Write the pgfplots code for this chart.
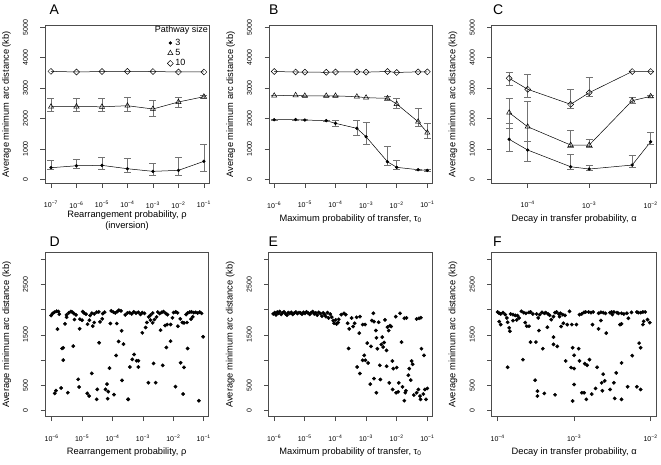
\documentclass[border=0pt]{standalone}
\usepackage{fontspec}
\setmainfont{Liberation Sans}
\usepackage{pgfplots}
\pgfplotsset{compat=1.18}
\usepackage{pgfplotstable}

\definecolor{errgray}{gray}{0.45}
\definecolor{boxgray}{gray}{0.3}
\newcommand{\tp}[1]{10\textsuperscript{−#1}}

% ---------- line panels: x = log10 value ----------
\pgfplotstableread{
x y ep em
-7 382 243 53
-6 447 211 85
-5 460 251 131
-4 349 329 119
-3 263 263 145
-2 296 428 178
-1 592 569 342
}\Athree
\pgfplotstableread{
x y ep em
-7 2388 276 151
-6 2395 270 150
-5 2385 280 150
-4 2421 265 184
-3 2313 296 253
-2 2543 164 175
-1 2718 55 43
}\Afive
\pgfplotstableread{
x y ep em
-7 3550 0 0
-6 3530 0 0
-5 3545 0 0
-4 3550 0 0
-3 3545 0 0
-2 3530 0 0
-1 3530 0 0
}\Aten
\pgfplotstableread{
x y ep em
-6 1960 15 15
-5.301 1965 15 15
-5 1950 15 15
-4.301 1930 20 20
-4 1842 109 89
-3.301 1677 251 220
-3 1401 474 250
-2.301 579 493 132
-2 395 217 56
-1.301 316 20 20
-1 296 20 20
}\Bthree
\pgfplotstableread{
x y ep em
-6 2750 0 0
-5.301 2765 0 0
-5 2745 0 0
-4.301 2745 0 0
-4 2745 0 0
-3.301 2717 0 0
-3 2684 0 0
-2.301 2664 76 78
-2 2477 187 142
-1.301 1895 427 165
-1 1533 309 184
}\Bfive
\pgfplotstableread{
x y ep em
-6 3545 0 0
-5.301 3530 0 0
-5 3525 0 0
-4.301 3520 0 0
-4 3530 0 0
-3.301 3535 0 0
-3 3525 0 0
-2.301 3545 0 0
-2 3515 0 0
-1.301 3535 0 0
-1 3535 0 0
}\Bten
\pgfplotstableread{
x y ep em
-4.301 1316 526 408
-4 964 273 385
-3.301 414 418 85
-3 339 131 56
-2.301 470 307 76
-2 1237 296 86
}\Cthree
\pgfplotstableread{
x y ep em
-4.301 2191 460 513
-4 1730 823 493
-3.301 1128 471 75
-3 1128 198 75
-2.301 2586 111 86
-2 2730 30 30
}\Cfive
\pgfplotstableread{
x y ep em
-4.301 3322 185 220
-4 2961 493 261
-3.301 2467 494 131
-3 2849 506 109
-2.301 3545 0 0
-2 3545 0 0
}\Cten

% ---------- scatter panels ----------
\pgfplotstableread{
x y
-6.02 1882
-5.97 1921
-5.91 1948
-5.84 1967
-5.78 1961
-5.75 1908
-5.51 1895
-5.44 1934
-5.37 1961
-5.32 1948
-5.27 1921
-5.20 1895
-4.98 1961
-4.93 1928
-4.87 1908
-4.74 1882
-4.68 1928
-4.60 1915
-4.52 1948
-4.45 1954
-4.32 1921
-4.26 1948
-4.04 1974
-3.97 1948
-3.91 1934
-3.84 1961
-3.79 1987
-3.72 1974
-3.58 1895
-3.51 1934
-3.44 1940
-3.37 1915
-3.30 1955
-3.23 1930
-3.15 1945
-3.08 1905
-3.02 1940
-2.95 1925
-2.75 1890
-2.68 1930
-2.51 1950
-2.45 1920
-2.38 1945
-2.32 1960
-2.25 1925
-2.19 1900
-1.99 1940
-1.92 1955
-1.86 1935
-1.58 1900
-1.53 1930
-1.46 1950
-1.40 1955
-1.33 1940
-1.26 1945
-1.20 1930
-1.13 1950
-1.07 1925
-5.81 1612
-5.56 1717
-5.51 1849
-5.25 1803
-5.07 1809
-5.08 1619
-5.00 1790
-4.82 1711
-4.76 1790
-4.65 1671
-4.60 1744
-4.41 1757
-4.34 1816
-4.07 1724
-3.86 1724
-3.70 1579
-3.02 1540
-2.91 1645
-2.87 1744
-2.81 1855
-2.75 1790
-2.68 1737
-2.62 1803
-2.55 1855
-2.42 1592
-2.27 1684
-2.20 1704
-2.09 1704
-2.03 1836
-1.85 1671
-1.77 1816
-1.70 1744
-1.65 1737
-1.55 1744
-1.42 1810
-1.36 1855
-5.66 1230
-5.62 1244
-5.29 1277
-5.62 1000
-4.44 1342
-3.80 1369
-3.64 1316
-3.88 1092
-4.10 842
-4.68 737
-5.13 619
-3.69 599
-1.02 1461
-2.09 1375
-2.23 1250
-1.53 1230
-3.29 1112
-3.35 1013
-3.21 987
-3.15 987
-3.43 862
-3.15 862
-2.65 934
-2.35 895
-1.76 947
-1.65 855
-5.90 342
-5.86 395
-5.69 447
-5.47 355
-5.10 467
-4.83 342
-4.77 290
-4.52 224
-4.50 421
-4.23 421
-4.18 526
-4.14 375
-4.16 237
-3.95 316
-3.48 224
-2.82 553
-2.58 553
-1.93 474
-1.68 329
-3.49 224
-1.16 197
}\Ddata

\pgfplotstableread{
x y
-6.03 1915
-5.98 1940
-5.94 1895
-5.90 1950
-5.86 1925
-5.82 1960
-5.77 1905
-5.73 1935
-5.68 1955
-5.63 1915
-5.58 1890
-5.54 1940
-5.49 1925
-5.44 1945
-5.39 1905
-5.34 1930
-5.29 1950
-5.24 1920
-5.19 1940
-5.14 1935
-5.09 1910
-5.04 1945
-4.99 1925
-4.94 1955
-4.89 1930
-4.84 1905
-4.79 1940
-4.74 1960
-4.69 1915
-4.64 1935
-4.59 1890
-4.54 1945
-4.49 1920
-4.44 1870
-4.40 1935
-4.35 1900
-4.31 1860
-4.26 1940
-4.22 1834
-4.17 1910
-4.12 1850
-4.07 1782
-4.04 1729
-3.99 1795
-3.96 1716
-3.91 1745
-3.89 1808
-3.81 1900
-3.72 1925
-3.66 1900
-3.60 1729
-3.55 1618
-3.47 1834
-3.42 1664
-3.37 1729
-3.31 1847
-3.22 1533
-3.20 1860
-3.11 1703
-3.03 1703
-2.96 1336
-2.84 1271
-2.81 1782
-2.76 1926
-2.74 1762
-2.68 1585
-2.66 1441
-2.63 1225
-2.59 1749
-2.55 897
-2.50 1310
-2.47 1454
-2.44 1258
-2.41 1349
-2.38 1795
-2.33 1192
-2.30 1651
-2.26 1585
-2.22 1683
-2.18 1664
-2.11 832
-2.03 1860
-1.89 1926
-1.84 1356
-1.75 1827
-1.68 1834
-3.29 865
-3.20 734
-3.11 996
-3.06 1094
-3.02 996
-2.93 943
-2.86 524
-2.74 635
-2.66 354
-2.53 616
-2.33 878
-2.24 550
-2.14 983
-2.00 852
-2.13 419
-2.02 354
-1.95 373
-1.93 550
-1.81 472
-1.72 354
-1.70 393
-1.75 197
-1.62 701
-1.59 832
-1.54 603
-1.51 983
-1.48 917
-1.44 308
-1.35 354
-1.29 419
-1.24 288
-1.22 223
-1.13 328
-1.08 419
-1.04 223
-1.00 439
-1.19 1225
-1.11 1094
-1.35 1814
-1.27 1827
-1.21 1840
-3.57 1230
}\Edata

\pgfplotstableread{
x y
-4.00 1952
-3.98 1926
-3.96 1913
-3.93 1939
-3.90 1900
-3.83 1913
-3.80 1900
-3.77 1886
-3.74 1880
-3.69 1965
-3.66 1939
-3.63 1926
-3.59 1945
-3.57 1952
-3.54 1913
-3.45 1900
-3.42 1945
-3.39 1926
-3.37 1939
-3.34 1913
-3.32 1886
-3.25 1939
-3.23 1952
-3.20 1913
-3.18 1926
-3.15 1900
-3.12 1886
-3.06 1965
-2.93 1900
-2.90 1913
-2.87 1945
-2.85 1952
-2.81 1952
-2.78 1939
-2.75 1952
-2.68 1926
-2.65 1945
-2.62 1939
-2.59 1926
-2.53 1939
-2.51 1952
-2.48 1952
-2.44 1939
-2.42 1926
-2.38 1926
-2.35 1913
-2.31 1926
-2.25 1945
-2.18 1952
-2.16 1939
-2.13 1939
-2.10 1952
-2.07 1952
-3.98 1762
-3.96 1703
-3.88 1834
-3.87 1749
-3.85 1638
-3.84 1572
-3.80 1782
-3.75 1795
-3.72 1834
-3.64 1742
-3.62 1670
-3.59 1670
-3.49 1913
-3.47 1834
-3.46 1585
-3.35 1651
-3.30 1801
-3.27 1860
-3.19 1860
-3.17 1664
-3.14 1729
-3.09 1703
-3.03 1703
-2.97 1703
-2.76 1703
-2.65 1782
-2.58 1533
-2.68 1618
-2.50 1900
-2.40 1703
-2.38 1716
-2.29 1827
-2.10 1703
-2.09 1768
-2.04 1801
-2.01 1742
-3.57 1356
-3.50 1356
-3.41 1225
-3.27 1454
-3.27 1310
-3.22 1271
-3.67 1009
-3.11 983
-3.02 1245
-3.00 1094
-2.94 1225
-2.93 983
-3.04 852
-3.00 832
-2.86 930
-2.83 897
-2.80 1009
-2.70 858
-2.38 943
-2.24 1087
-2.15 1336
-2.13 1245
-3.87 858
-3.51 603
-3.48 386
-3.48 288
-3.39 340
-3.25 314
-3.02 190
-3.00 517
-2.90 354
-2.87 354
-2.84 223
-2.77 328
-2.72 439
-2.64 550
-2.62 721
-2.60 590
-2.63 393
-2.53 419
-2.48 550
-2.47 242
-2.45 747
-2.38 223
-2.30 472
-2.18 472
-2.13 419
}\Fdata

\pgfplotsset{
  panel/.style={
    scale only axis,
    axis line style={boxgray, line width=0.6pt},
    tick style={boxgray, line width=0.6pt},
    tick align=outside,
    major tick length=4.5pt,
    tick pos=left,
    ticklabel style={font=\fontsize{7}{8}\selectfont, text=black, inner sep=0pt},
    xticklabel style={anchor=center, yshift=-17pt},
    yticklabel style={anchor=center, xshift=-15pt, rotate=90},
    label style={font=\fontsize{9.3}{11}\selectfont, inner sep=0pt},
    ylabel style={at={(axis description cs:-0.235,0.5)}, anchor=center},
    ylabel={Average minimum arc distance (kb)},
    clip=false,
  },
  toprow/.style={panel, width=164pt, height=158.3pt,
    ymin=-130, ymax=5075,
    ytick={0,1000,2000,3000,4000,5000},
    yticklabels={0,1000,2000,3000,4000,5000},
    xlabel style={at={(axis description cs:0.5,-0.226)}, anchor=center, align=center},
  },
  botrow/.style={panel, width=164pt, height=164pt,
    ymin=-120, ymax=3125,
    ytick={0,500,1000,1500,2000,2500,3000},
    yticklabels={0,500,,1500,,2500,},
    xlabel style={at={(axis description cs:0.5,-0.215)}, anchor=center},
  },
  s3/.style={black, line width=0.5pt, mark=*, mark size=1.4pt},
  s5/.style={black, line width=0.5pt, mark=triangle, mark size=3pt, mark options={line width=0.5pt}},
  s10/.style={black, line width=0.5pt, mark=square, mark size=2.1pt, mark options={rotate=45, line width=0.5pt}},
  eb/.style={error bars/.cd, y dir=both, y explicit,
    error bar style={errgray, line width=0.6pt},
    error mark options={errgray, mark size=3.5pt, line width=0.6pt, rotate=90}},
  sc/.style={only marks, mark=*, mark size=1.7pt, black},
}

\begin{document}
\begin{tikzpicture}
\useasboundingbox (0,0) rectangle (661pt,464pt);

% ---------------- A ----------------
\begin{axis}[toprow, at={(45pt,280.7pt)}, anchor=south west,
  xmin=-7.235, xmax=-0.8,
  xtick={-7,-6,-5,-4,-3,-2,-1},
  xticklabels={\tp{7},\tp{6},\tp{5},\tp{4},\tp{3},\tp{2},\tp{1}},
  xlabel={Rearrangement probability, ρ\\(inversion)},
  xlabel style={at={(axis description cs:0.5,-0.236)}},
  legend style={draw=none, fill=none, at={(rel axis cs:0.745,0.925)}, anchor=north west,
    font=\fontsize{9}{10}\selectfont, row sep=-1.5pt, inner sep=0pt},
  legend cell align=left,
  legend image code/.code={\draw[#1, only marks] plot coordinates {(0.1cm,0cm)};},
]
\addplot[s3, eb] table[x=x, y=y, y error plus=ep, y error minus=em] {\Athree};
\addlegendentry{3}
\addplot[s5, eb] table[x=x, y=y, y error plus=ep, y error minus=em] {\Afive};
\addlegendentry{5}
\addplot[s10] table[x=x, y=y] {\Aten};
\addlegendentry{10}
\node[font=\fontsize{9}{10}\selectfont, anchor=center] at (rel axis cs:0.832,0.965) {Pathway size};
\end{axis}
\node[font=\fontsize{14}{16}\selectfont, anchor=base west, inner sep=0pt] at (49.5pt,449pt) {A};

% ---------------- B ----------------
\begin{axis}[toprow, at={(269pt,280.7pt)}, anchor=south west, width=163.3pt,
  xmin=-6.17, xmax=-0.837,
  xtick={-6,-5,-4,-3,-2,-1},
  xticklabels={\tp{6},\tp{5},\tp{4},\tp{3},\tp{2},\tp{1}},
  xlabel={Maximum probability of transfer, τ\textsubscript{0}},
]
\addplot[s3, eb] table[x=x, y=y, y error plus=ep, y error minus=em] {\Bthree};
\addplot[s5, eb] table[x=x, y=y, y error plus=ep, y error minus=em] {\Bfive};
\addplot[s10] table[x=x, y=y] {\Bten};
\end{axis}
\node[font=\fontsize{14}{16}\selectfont, anchor=base west, inner sep=0pt] at (269pt,449pt) {B};

% ---------------- C ----------------
\begin{axis}[toprow, at={(491.7pt,280.7pt)}, anchor=south west, width=165pt,
  xmin=-4.585, xmax=-1.902,
  xtick={-4,-3,-2},
  xticklabels={\tp{4},\tp{3},\tp{2}},
  xlabel={Decay in transfer probability, α},
]
\addplot[s3, eb] table[x=x, y=y, y error plus=ep, y error minus=em] {\Cthree};
\addplot[s5, eb] table[x=x, y=y, y error plus=ep, y error minus=em] {\Cfive};
\addplot[s10, eb] table[x=x, y=y, y error plus=ep, y error minus=em] {\Cten};
\end{axis}
\node[font=\fontsize{14}{16}\selectfont, anchor=base west, inner sep=0pt] at (493pt,449pt) {C};

% ---------------- D ----------------
\begin{axis}[botrow, at={(45pt,47.3pt)}, anchor=south west, width=163.3pt,
  xmin=-6.22, xmax=-0.85,
  xtick={-6,-5,-4,-3,-2,-1},
  xticklabels={\tp{6},\tp{5},\tp{4},\tp{3},\tp{2},\tp{1}},
  xlabel={Rearrangement probability, ρ},
]
\addplot[sc] table[x=x, y=y] {\Ddata};
\end{axis}
\node[font=\fontsize{14}{16}\selectfont, anchor=base west, inner sep=0pt] at (49.5pt,217.5pt) {D};

% ---------------- E ----------------
\begin{axis}[botrow, at={(268.6pt,47.3pt)}, anchor=south west, width=163.7pt,
  xmin=-6.18, xmax=-0.837,
  xtick={-6,-5,-4,-3,-2,-1},
  xticklabels={\tp{6},\tp{5},\tp{4},\tp{3},\tp{2},\tp{1}},
  xlabel={Maximum probability of transfer, τ\textsubscript{0}},
]
\addplot[sc] table[x=x, y=y] {\Edata};
\end{axis}
\node[font=\fontsize{14}{16}\selectfont, anchor=base west, inner sep=0pt] at (268.5pt,217.5pt) {E};

% ---------------- F ----------------
\begin{axis}[botrow, at={(491.7pt,47.3pt)}, anchor=south west, width=165pt,
  xmin=-4.078, xmax=-1.92,
  xtick={-4,-3,-2},
  xticklabels={\tp{4},\tp{3},\tp{2}},
  xlabel={Decay in transfer probability, α},
]
\addplot[sc] table[x=x, y=y] {\Fdata};
\end{axis}
\node[font=\fontsize{14}{16}\selectfont, anchor=base west, inner sep=0pt] at (493pt,217.5pt) {F};
\end{tikzpicture}
\end{document}
